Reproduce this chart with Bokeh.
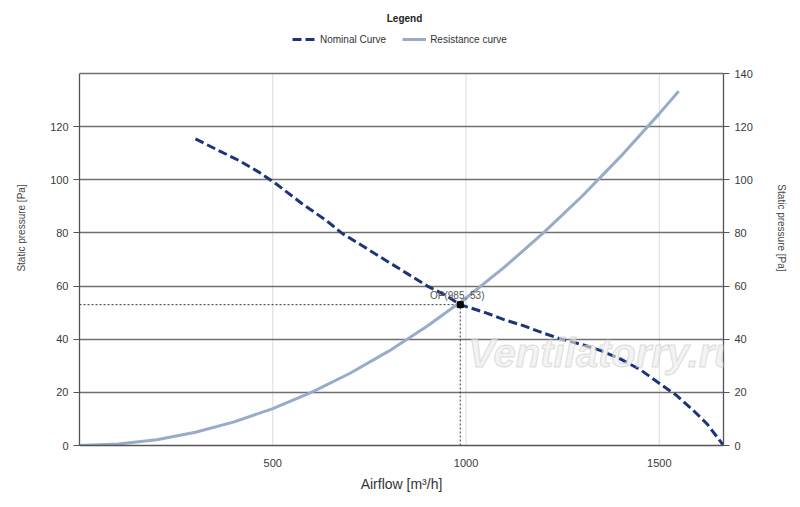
from bokeh.plotting import figure
from bokeh.models import (Range1d, LinearAxis, FixedTicker, Legend, LegendItem, Label)
from bokeh.embed import file_html
from bokeh.resources import INLINE

# ---- data ----
nominal_x = [300, 360, 412, 464, 503, 576, 640, 678, 750, 800, 850, 900, 950, 985,
             1050, 1100, 1150, 1200, 1240, 1300, 1347, 1399, 1451, 1502, 1545, 1588, 1623, 1666]
nominal_y = [115.4, 111, 107.3, 102.9, 99.1, 91, 84.5, 80, 73.5, 69, 64.5, 60, 56.3, 53,
             50, 47.3, 45, 42.3, 40.3, 38, 35.8, 32.6, 28.5, 23.2, 18.8, 13.2, 8.2, 0]

resist_x = [0, 100, 200, 300, 400, 500, 600, 700, 800, 900, 1000, 1100, 1200, 1300, 1400, 1500, 1550]
resist_y = [0, 0.6, 2.2, 5.0, 8.9, 13.9, 20, 27.2, 35.5, 45, 55.5, 67.2, 80, 93.8, 108.8, 124.9, 133.3]

op_x = 985
op_y = 53
op_label = "OP(985, 53)"

x_max = 1666
y_max = 140
x_ticks = [500, 1000, 1500]
left_ticks = [0, 20, 40, 60, 80, 100, 120]
right_ticks = [0, 20, 40, 60, 80, 100, 120, 140]

FONT = "Liberation Sans"
NOMINAL_COLOR = "#1b3578"
RESIST_COLOR = "#98abc9"

# layout: axis area is 372 px tall for 0..140; the frame extends above it to hold the legend
W, H = 790, 500
TOP, BOTTOM_Y = 10, 445
AXIS_PX = 372
FRAME_PX = BOTTOM_Y - TOP
y_top = y_max * FRAME_PX / AXIS_PX

p = figure(width=W, height=H, output_backend="svg", toolbar_location=None, title=None,
           x_range=Range1d(0, x_max), y_range=Range1d(0, y_top),
           min_border_left=79, min_border_right=W - 723, min_border_top=TOP,
           min_border_bottom=H - BOTTOM_Y,
           background_fill_color="white", border_fill_color="white")
p.outline_line_color = None

# axes
p.xaxis.ticker = FixedTicker(ticks=x_ticks)
p.yaxis.ticker = FixedTicker(ticks=left_ticks)
p.yaxis.bounds = (0, y_max)
for ax in (p.xaxis[0], p.yaxis[0]):
    ax.axis_line_color = "#555555"
    ax.axis_line_width = 1.3
    ax.major_tick_line_color = "#555555"
    ax.minor_tick_line_color = None
    ax.major_label_text_font = FONT
    ax.major_label_text_font_size = "11px"
    ax.major_label_text_color = "#3a3a3a"
p.xaxis.major_tick_out = 0
p.xaxis.major_tick_in = 0
p.xaxis.major_label_standoff = 13
p.yaxis.major_tick_out = 6
p.yaxis.major_tick_in = 0
p.xaxis.axis_label = "Airflow [m³/h]"
p.xaxis.axis_label_text_font = FONT
p.xaxis.axis_label_text_font_size = "14px"
p.xaxis.axis_label_text_font_style = "normal"
p.xaxis.axis_label_text_color = "#333333"
p.xaxis.axis_label_standoff = 6
p.yaxis.axis_label = "Static pressure [Pa]"
p.yaxis.axis_label_text_font = FONT
p.yaxis.axis_label_text_font_size = "10px"
p.yaxis.axis_label_text_font_style = "normal"
p.yaxis.axis_label_text_color = "#444444"
p.yaxis.axis_label_standoff = 20

p.extra_y_ranges = {"right": Range1d(0, y_top)}
rax = LinearAxis(y_range_name="right", ticker=FixedTicker(ticks=right_ticks),
                 axis_label="Static pressure [Pa]", bounds=(0, y_max))
rax.axis_line_color = "#555555"
rax.axis_line_width = 1.3
rax.major_tick_line_color = "#555555"
rax.minor_tick_line_color = None
rax.major_tick_out = 6
rax.major_tick_in = 0
rax.major_label_text_font = FONT
rax.major_label_text_font_size = "11px"
rax.major_label_text_color = "#3a3a3a"
rax.axis_label_text_font = FONT
rax.axis_label_text_font_size = "10px"
rax.axis_label_text_font_style = "normal"
rax.axis_label_text_color = "#444444"
rax.axis_label_standoff = 20
p.add_layout(rax, "right")

# grids: horizontal via grid, vertical limited to the axis span
p.xgrid.visible = False
p.ygrid.ticker = FixedTicker(ticks=right_ticks[1:])
p.ygrid.grid_line_color = "#6f6f6f"
p.ygrid.grid_line_width = 1.5
p.segment(x0=x_ticks, y0=[0] * len(x_ticks), x1=x_ticks, y1=[y_max] * len(x_ticks),
          line_color="#dcdcdc", line_width=1, level="underlay")

# operating point guides
p.line([0, op_x], [op_y, op_y], line_color="#333333", line_width=1, line_dash="2 2")
p.line([op_x, op_x], [0, op_y], line_color="#333333", line_width=1, line_dash="2 2")

# curves
r_res = p.line(resist_x, resist_y, line_color=RESIST_COLOR, line_width=3)
r_nom = p.line(nominal_x, nominal_y, line_color=NOMINAL_COLOR, line_width=3, line_dash="9 4")

p.scatter([op_x], [op_y], marker="square", size=6, fill_color="black", line_color="black")
p.add_layout(Label(x=op_x, y=op_y, text=op_label, text_font=FONT, text_font_size="10px",
                   text_color="#555555", text_align="center", text_baseline="bottom",
                   x_offset=-3, y_offset=4))

# watermark
wm = Label(x=524, y=93, x_units="screen", y_units="screen", text="Ventilatorry.ru",
           text_font=FONT, text_font_size="40px", text_font_style="bold italic",
           text_align="center", text_baseline="middle", text_color="#ececec", text_alpha=0.6)
if "text_outline_color" in Label.properties():
    wm.text_outline_color = "#c8c8c8"
p.add_layout(wm)

# legend (in the band above the axis span)
legend = Legend(items=[LegendItem(label="Nominal Curve", renderers=[r_nom]),
                       LegendItem(label="Resistance curve", renderers=[r_res])],
                orientation="horizontal", location=(213, FRAME_PX - 26 - 9),
                background_fill_alpha=0, border_line_color=None,
                label_text_font=FONT, label_text_font_size="10px", label_text_color="#333333",
                glyph_width=24, glyph_height=12, label_standoff=4, spacing=16,
                padding=2, margin=0)
p.add_layout(legend)
p.add_layout(Label(x=325, y=FRAME_PX - 8, x_units="screen", y_units="screen", text="Legend",
                   text_font=FONT, text_font_size="10px", text_font_style="bold",
                   text_color="#222222", text_align="center", text_baseline="middle"))

open("out.html", "w").write(file_html(p, INLINE))
